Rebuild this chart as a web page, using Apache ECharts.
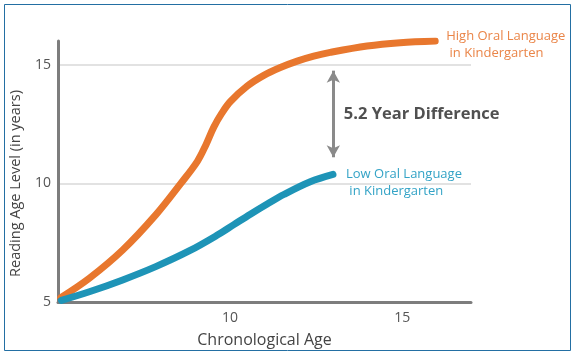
<!DOCTYPE html>
<html>
<head>
<meta charset="utf-8">
<script src="https://cdn.jsdelivr.net/npm/echarts@6/dist/echarts.min.js"></script>
<style>
html,body{margin:0;padding:0;background:#fff;}
#chart{width:574px;height:355px;}
</style>
</head>
<body>
<div id="chart"></div>
<script>
// Chronological age (x) and reading age level (y)
const ageHigh = [5.08, 5.91, 6.88, 7.84, 8.57, 9.05, 9.29, 9.53, 9.77, 10.01, 10.50, 10.98, 11.46, 11.95, 12.43, 12.91, 13.98, 14.94, 15.96];
const readingHigh = [5.18, 6.0, 7.19, 8.67, 10.0, 10.93, 11.6, 12.38, 12.98, 13.45, 14.1, 14.55, 14.88, 15.15, 15.36, 15.52, 15.79, 15.93, 16.0];
const ageLow = [5.1, 5.91, 6.88, 7.84, 8.81, 9.63, 10.11, 10.59, 11.08, 11.56, 12.33, 12.99];
const readingLow = [5.07, 5.43, 5.93, 6.49, 7.15, 7.82, 8.26, 8.7, 9.13, 9.53, 10.07, 10.38];
const seriesNames = ['High Oral Language\n in Kindergarten', 'Low Oral Language\n in Kindergarten'];
const diffLabel = '5.2 Year Difference';
const diffAge = 13;
const diffTop = 14.75;
const diffBottom = 11.1;
const diffTextPos = [13.29, 12.92];

const FONT = 'Open Sans';
const pairs = (xs, ys) => xs.map((x, i) => [x, ys[i]]);

const chart = echarts.init(document.getElementById('chart'));
chart.setOption({
  animation: false,
  backgroundColor: '#ffffff',
  grid: { left: 57, right: 103, top: 41, bottom: 53, containLabel: false },
  xAxis: {
    type: 'value', min: 5, max: 17, interval: 5,
    name: 'Chronological Age', nameLocation: 'middle', nameGap: 30,
    nameTextStyle: { fontFamily: FONT, fontSize: 16, color: '#444' },
    axisLine: { show: true, lineStyle: { color: '#7d7d7d', width: 3 } },
    axisTick: { show: false },
    axisLabel: { showMinLabel: false, showMaxLabel: false, fontFamily: FONT, fontSize: 14, color: '#555', margin: 9 },
    splitLine: { show: false }
  },
  yAxis: {
    type: 'value', min: 5, max: 16, interval: 5,
    name: 'Reading Age Level (in years)', nameLocation: 'middle', nameGap: 35, nameRotate: 90,
    nameTextStyle: { fontFamily: FONT, fontSize: 14.5, color: '#444', padding: [0, 24, 0, 0] },
    axisLine: { show: true, lineStyle: { color: '#7d7d7d', width: 3 } },
    axisTick: { show: false },
    axisLabel: { showMaxLabel: false, fontFamily: FONT, fontSize: 14, color: '#555', margin: 7 },
    splitLine: { show: true, showMinLine: false, showMaxLine: false, lineStyle: { color: '#e2e2e2', width: 2 } }
  },
  series: [
    {
      type: 'line', name: 'High', data: pairs(ageHigh, readingHigh),
      smooth: 0.35, showSymbol: false, symbol: 'none',
      lineStyle: { color: '#e8772e', width: 7, cap: 'round', join: 'round' },
      z: 3,
      endLabel: {
        show: true, formatter: seriesNames[0], fontFamily: FONT, fontSize: 13, lineHeight: 17,
        color: '#ea8548', align: 'left', verticalAlign: 'middle', distance: 0, offset: [11, 4]
      }
    },
    {
      type: 'line', name: 'Low', data: pairs(ageLow, readingLow),
      smooth: 0.35, showSymbol: false, symbol: 'none',
      lineStyle: { color: '#1e94b7', width: 7, cap: 'round', join: 'round' },
      z: 3,
      endLabel: {
        show: true, formatter: seriesNames[1], fontFamily: FONT, fontSize: 13, lineHeight: 17,
        color: '#33a3c6', align: 'left', verticalAlign: 'middle', distance: 0, offset: [13, 8]
      },
      markLine: {
        silent: true, symbol: ['arrow', 'arrow'], symbolSize: [10, 12],
        lineStyle: { color: '#8a8a8a', width: 3, type: 'solid' },
        label: { show: false },
        data: [[{ coord: [diffAge, diffTop] }, { coord: [diffAge, diffBottom] }]]
      },
      markPoint: {
        silent: true, symbol: 'circle', symbolSize: 1, itemStyle: { color: 'rgba(0,0,0,0)' },
        label: { show: true, position: 'right', distance: 0, formatter: diffLabel,
          fontFamily: FONT, fontSize: 16.5, fontWeight: 'bold', color: '#505050' },
        data: [{ coord: diffTextPos }]
      }
    }
  ],
  graphic: [
    { type: 'rect', shape: { x: 4.5, y: 4.5, width: 566, height: 346 },
      style: { fill: 'none', stroke: '#236fa3', lineWidth: 1 }, silent: true, z: 100 }
  ]
});
</script>
</body>
</html>
